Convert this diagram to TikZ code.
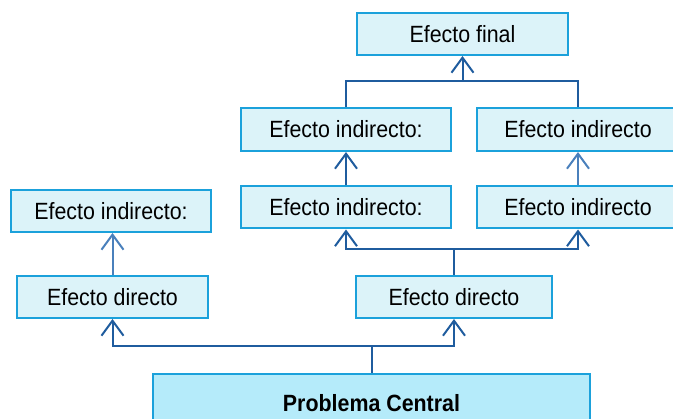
\documentclass[tikz,border=0pt]{standalone}
\usepackage{fontspec}
\setmainfont{Liberation Sans}[FakeStretch=0.91]
\usetikzlibrary{arrows.meta}

\definecolor{boxline}{HTML}{1BA1DB}
\definecolor{boxfill}{HTML}{DCF3F9}
\definecolor{corefill}{HTML}{B5EBFA}
\definecolor{linkdark}{HTML}{1F5C9E}
\definecolor{linklight}{HTML}{4A80BC}

\tikzset{
  effectbox/.style={draw=boxline, fill=boxfill, line width=2pt, rectangle,
    inner sep=0pt, minimum height=42pt, text=black,
    font=\fontsize{23.5}{28}\selectfont},
  corebox/.style={effectbox, fill=corefill, minimum height=58pt,
    font=\fontsize{23.5}{28}\selectfont\bfseries},
  conn/.style={draw=linkdark, line width=2pt},
  arr/.style={conn, -{Straight Barb[length=15pt,width=22pt]}},
  arrlight/.style={arr, draw=linklight},
}

\begin{document}
\begin{tikzpicture}[x=1pt, y=-1pt]
  \useasboundingbox (0,0) rectangle (673,419);
  \clip (0,0) rectangle (673,419);

  % effect boxes
  \node[effectbox, minimum width=211pt] (final) at (462.5,34) {Efecto final};
  \node[effectbox, minimum width=210pt, minimum height=43pt] (i2l) at (346,129.5) {Efecto indirecto:};
  \node[effectbox, minimum width=202pt, minimum height=43pt] (i2r) at (578,129.5) {Efecto indirecto};
  \node[effectbox, minimum width=210pt] (i3l) at (346,207.5) {Efecto indirecto:};
  \node[effectbox, minimum width=202pt] (i3r) at (578,207.5) {Efecto indirecto};
  \node[effectbox, minimum width=200pt] (il) at (111,211) {Efecto indirecto:};
  \node[effectbox, minimum width=191pt] (dl) at (112.5,297) {Efecto directo};
  \node[effectbox, minimum width=196pt] (dr) at (454,297) {Efecto directo};
  \node[corebox, minimum width=437pt] (pc) at (371.5,403) {Problema Central};

  % levels of the connector rails
  \coordinate (y346) at (0,346);
  \coordinate (y249) at (0,249);
  \coordinate (y81) at (0,81);

  % central problem to direct effects
  \coordinate (j1) at (pc.north |- y346);
  \draw[conn] (pc.north) -- (j1);
  \draw[arr] (j1) -| (dl.south);
  \draw[arr] (j1) -| (dr.south);

  % left branch
  \draw[arrlight] (dl.north) -- (dl.north |- il.south);

  % right branch
  \coordinate (j2) at (dr.north |- y249);
  \draw[conn] (dr.north) -- (j2);
  \draw[arr] (j2) -| (i3l.south);
  \draw[arr] (j2) -| (i3r.south);
  \draw[arr] (i3l.north) -- (i2l.south);
  \draw[arrlight] (i3r.north) -- (i2r.south);

  % indirect effects to final effect
  \coordinate (j3) at (final.south |- y81);
  \draw[conn] (i2l.north) |- (j3);
  \draw[conn] (i2r.north) |- (j3);
  \draw[arr] (j3) -- (final.south);
\end{tikzpicture}
\end{document}
